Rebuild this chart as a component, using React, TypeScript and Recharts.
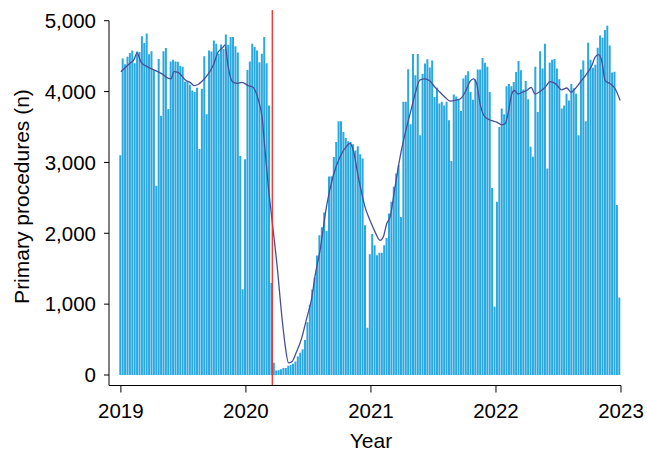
import { ComposedChart, Bar, Line, XAxis, YAxis, ReferenceLine } from "recharts";

// weekly primary procedures (week 1 of each year first)
const procedures2019 = [
  3100, 4465, 4385, 4490, 4545, 4580, 4400, 4565, 4560, 4780,
  4685, 4820, 4525, 4570, 4300, 2670, 4460, 3660, 4570, 4615,
  3755, 4425, 4450, 4425, 4420, 4365, 4350, 4140, 4140, 4095,
  4015, 3995, 4055, 3190, 4040, 4500, 3680, 4580, 4565, 4720,
  4675, 4535, 4665, 4600, 4805, 4660, 4770, 4770, 4640, 4550,
  3090, 1210,
];
const procedures2020 = [
  3045, 4305, 4425, 4675, 4630, 4580, 4415, 4535, 4770, 4400,
  3805, 1300, 173, 62, 68, 82, 100, 100, 130, 142,
  160, 190, 262, 315, 365, 494, 745, 990, 1205, 1371,
  1688, 1973, 2085, 2295, 2034, 2800, 2805, 3078, 3290, 3580,
  3580, 3430, 3345, 3300, 3290, 3255, 3170, 3230, 3115, 3055,
  2115, 667, 1705,
];
const procedures2021 = [
  1990, 1830, 1690, 1725, 1725, 1830, 1935, 2280, 2445, 2655,
  2845, 2960, 2230, 3855, 3855, 4315, 3540, 4530, 4230, 4530,
  3385, 4250, 4395, 4455, 4340, 4440, 3925, 4055, 3830, 3855,
  3805, 3855, 3595, 3020, 3960, 3930, 3890, 3725, 4185, 4230,
  4285, 3995, 3885, 4170, 4310, 4310, 4475, 4405, 4350, 3995,
  2640, 965,
];
const procedures2022 = [
  2445, 3500, 3760, 3680, 4075, 4105, 4075, 4135, 4275, 4430,
  4300, 4030, 4150, 3890, 3220, 3080, 4350, 3710, 4570, 4325,
  4675, 2915, 4410, 4450, 4460, 4325, 4175, 3760, 3805, 3970,
  3875, 4105, 4045, 3970, 3385, 4310, 4440, 3580, 4690, 4450,
  4335, 4380, 4620, 4790, 4760, 4870, 4930, 4650, 4270, 4280,
  2400, 1095,
];

// smoothed trend (decimal year, procedures)
const loessYear = [
  2019.0, 2019.073, 2019.105, 2019.129, 2019.161, 2019.217, 2019.273, 2019.329,
  2019.377, 2019.401, 2019.425, 2019.457, 2019.521, 2019.553, 2019.585, 2019.617,
  2019.657, 2019.689, 2019.737, 2019.777, 2019.817, 2019.833, 2019.857, 2019.889,
  2019.929, 2019.969, 2020.017, 2020.057, 2020.097, 2020.129, 2020.153, 2020.177,
  2020.209, 2020.249, 2020.289, 2020.313, 2020.341, 2020.369, 2020.401, 2020.446,
  2020.486, 2020.526, 2020.553, 2020.593, 2020.646, 2020.699, 2020.753, 2020.806,
  2020.833, 2020.859, 2020.899, 2020.953, 2020.993, 2021.033, 2021.073, 2021.099,
  2021.126, 2021.153, 2021.193, 2021.233, 2021.273, 2021.313, 2021.353, 2021.393,
  2021.433, 2021.467, 2021.513, 2021.553, 2021.593, 2021.633, 2021.673, 2021.713,
  2021.753, 2021.793, 2021.819, 2021.846, 2021.873, 2021.913, 2021.966, 2022.006,
  2022.046, 2022.073, 2022.099, 2022.126, 2022.147, 2022.179, 2022.206, 2022.246,
  2022.281, 2022.313, 2022.353, 2022.393, 2022.433, 2022.473, 2022.526, 2022.566,
  2022.601, 2022.633, 2022.673, 2022.726, 2022.766, 2022.793, 2022.819, 2022.846,
  2022.873, 2022.913, 2022.953, 2022.993,
];
const loessValue = [
  4280, 4400, 4450, 4545, 4415, 4345, 4300, 4250,
  4190, 4180, 4280, 4270, 4155, 4130, 4085, 4100,
  4160, 4225, 4365, 4555, 4625, 4660, 4365, 4145,
  4115, 4130, 4085, 4060, 3895, 3640, 3170, 2700,
  2185, 1550, 800, 430, 170, 190, 310, 520,
  800, 1080, 1400, 1760, 2395, 2815, 3080, 3230,
  3270, 3170, 2795, 2370, 2180, 2020, 1900, 1950,
  2135, 2230, 2655, 3075, 3405, 3685, 3965, 4165,
  4180, 4155, 4060, 3990, 3920, 3865, 3875, 3895,
  3990, 4145, 4180, 4110, 3825, 3640, 3590, 3570,
  3530, 3545, 3710, 3965, 4015, 3965, 3990, 4015,
  4060, 3965, 4000, 4060, 4140, 4115, 4025, 4050,
  3990, 4040, 4130, 4250, 4365, 4485, 4520, 4435,
  4155, 4110, 4040, 3875,
];

const yearTicks = [2019, 2020, 2021, 2022, 2023];
const countTicks = [0, 1000, 2000, 3000, 4000, 5000];
const lockdownYear = 2020.211;

const X_MIN = 2018.905;
const X_MAX = 2023;
const Y_MIN = -148;
const Y_MAX = 5151;

const weekly = [...procedures2019, ...procedures2020, ...procedures2021, ...procedures2022];
const data = weekly.map((n, i) => ({ week: i, n }));
const loessData = loessYear.map((t, i) => ({ t, v: loessValue[i] }));

const font = '"Liberation Sans", Arial, Helvetica, sans-serif';

const App = () => {
  return (
    <div
      style={{
        position: "absolute",
        left: 0,
        top: 0,
        width: 647,
        height: 451,
        background: "#fff",
        fontFamily: font,
      }}
    >
      <ComposedChart
        width={647}
        height={451}
        data={data}
        margin={{ top: 10, right: 26, bottom: 25.5, left: 49 }}
        barCategoryGap="8%"
      >
        <XAxis
          xAxisId="year"
          type="number"
          dataKey="t"
          domain={[X_MIN, X_MAX]}
          allowDataOverflow
          ticks={yearTicks}
          tickFormatter={(v: number) => String(v)}
          height={40}
          tickSize={7}
          tickMargin={11}
          axisLine={{ stroke: "#000" }}
          tickLine={{ stroke: "#000" }}
          tick={{ fill: "#000", fontSize: 20.5 }}
        />
        <XAxis
          xAxisId="week"
          dataKey="week"
          type="category"
          hide
          height={0}
          padding={{ left: 10.1, right: 0.5 }}
        />
        <YAxis
          type="number"
          domain={[Y_MIN, Y_MAX]}
          allowDataOverflow
          ticks={countTicks}
          width={60}
          axisLine={false}
          tickSize={5}
          tickMargin={8}
          tickLine={{ stroke: "#000" }}
          tick={{ fill: "#000", fontSize: 20.5 }}
          tickFormatter={(v: number) => v.toLocaleString("en-US")}
        />
        <ReferenceLine
          xAxisId="year"
          segment={[
            { x: X_MIN, y: Y_MIN },
            { x: X_MIN, y: 5000 },
          ]}
          stroke="#000"
          ifOverflow="visible"
        />
        <Bar xAxisId="week" dataKey="n" fill="#2AA8E0" isAnimationActive={false} />
        <Line
          xAxisId="year"
          data={loessData}
          dataKey="v"
          type="monotone"
          stroke="#474F99"
          strokeWidth={1.3}
          dot={false}
          isAnimationActive={false}
        />
        <ReferenceLine xAxisId="year" x={lockdownYear} stroke="#E8302E" strokeWidth={1.3} />
      </ComposedChart>
      <div
        style={{
          position: "absolute",
          left: 271,
          top: 429.7,
          width: 200,
          textAlign: "center",
          fontSize: 21,
          lineHeight: "21px",
          color: "#000",
        }}
      >
        Year
      </div>
      <div
        style={{
          position: "absolute",
          left: 20.8 - 150,
          top: 196 - 10.5,
          width: 300,
          height: 21,
          textAlign: "center",
          fontSize: 21,
          lineHeight: "21px",
          color: "#000",
          transform: "rotate(-90deg)",
          whiteSpace: "nowrap",
        }}
      >
        Primary procedures (n)
      </div>
    </div>
  );
};

export default App;
